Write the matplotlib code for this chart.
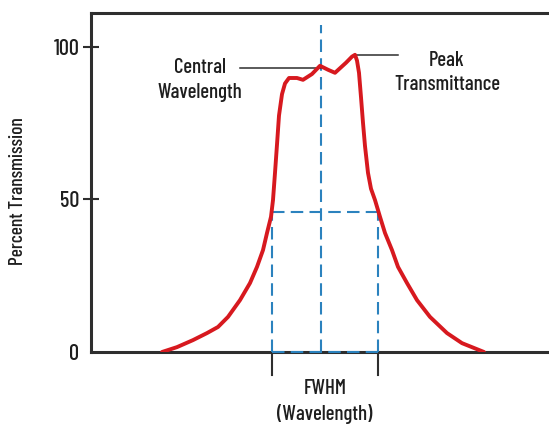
import matplotlib
matplotlib.use("Agg")
import matplotlib.pyplot as plt

# transmission curve (wavelength in arbitrary units, % transmission)
wavelength = [162, 177, 193, 207, 218, 228, 240, 250, 257, 263, 267, 271, 273, 275, 277, 279,
              282, 285, 289, 297, 303, 312, 320, 328, 335, 346, 352, 355, 357, 359, 361, 363,
              365, 368, 371, 375, 380, 385, 392, 398, 407, 417, 430, 447, 462, 484]
transmission = [0.0, 1.6, 3.9, 6.2, 8.2, 11.5, 17.0, 22.6, 27.9, 33.4, 39.0, 44.3, 49.8, 58.7, 68.0, 77.5,
                84.5, 88.0, 89.8, 89.8, 89.2, 91.1, 93.8, 92.5, 91.5, 94.8, 96.8, 97.4, 95.5, 91.5, 83.5, 75.1,
                67.5, 58.7, 53.5, 49.8, 44.3, 39.0, 33.4, 27.9, 22.6, 17.0, 11.5, 6.2, 2.9, 0.0]

center_wl = 321
fwhm_left, fwhm_right = 272, 378
half_level = 45.9
peak_wl, peak_val = 355, 97.4
center_val = 93.1

yticks = [0, 50, 100]
ytick_labels = ["0", "50", "100"]

RED = "#d7191f"
BLUE = "#2b82be"
DARK = "#2e2e2e"
TXT = "#1e1e1e"
FONT = ["Barlow Condensed", "DejaVu Sans"]

fig = plt.figure(figsize=(5.49, 4.25), dpi=100)
ax = fig.add_axes([91 / 549, 73 / 425, 1 - 91 / 549, 339 / 425])
ax.set_xlim(91, 549)
ax.set_ylim(0, 111.1)

# dashed guides
dash = dict(color=BLUE, lw=1.5, dashes=(6, 3), zorder=3, clip_on=False)
ax.plot([center_wl, center_wl], [0, 107.2], **dash)
ax.plot([fwhm_left, fwhm_left], [0, half_level], **dash)
ax.plot([fwhm_right, fwhm_right], [0, half_level], **dash)
ax.plot([fwhm_left, fwhm_right], [half_level, half_level], **dash)
ax.plot([fwhm_left, fwhm_right], [0, 0], **dash)

ax.plot(wavelength, transmission, color=RED, lw=2.8, zorder=4,
        solid_joinstyle="round", solid_capstyle="round")

# callout lines
ax.plot([240, center_wl], [center_val, center_val], color=DARK, lw=1.1, zorder=3)
ax.plot([peak_wl, 398], [peak_val, peak_val], color=DARK, lw=1.1, zorder=3)
txt = dict(ha="center", va="center", fontsize=15, family=FONT, fontweight="medium",
           color=TXT, linespacing=1.38)
ax.text(200, 89.2, "Central\nWavelength", **txt)
ax.text(447, 91.6, "Peak\nTransmittance", **txt)

# FWHM markers below axis
for xw in (fwhm_left, fwhm_right):
    ax.plot([xw, xw], [0, -7.5], color=DARK, lw=1.5, clip_on=False)
ax.text(325, -16.2, "FWHM\n(Wavelength)", clip_on=False, **txt)

ax.spines["right"].set_visible(False)
for s in ("left", "top", "bottom"):
    ax.spines[s].set_color(DARK)
    ax.spines[s].set_linewidth(2.2)

ax.set_xticks([])
ax.set_yticks(yticks)
ax.set_yticklabels(ytick_labels, family=FONT, fontsize=16, fontweight="medium", color=TXT)
ax.tick_params(axis="y", direction="inout", length=11, width=1.5, color=DARK, pad=3)
ax.yaxis.get_major_ticks()[0].tick1line.set_visible(False)

fig.text(18 / 549, 1 - 191 / 425, "Percent Transmission", rotation=90, ha="center",
         va="center", fontsize=14, family=FONT, fontweight="medium", color=TXT)

fig.savefig("out.png", dpi=100)
